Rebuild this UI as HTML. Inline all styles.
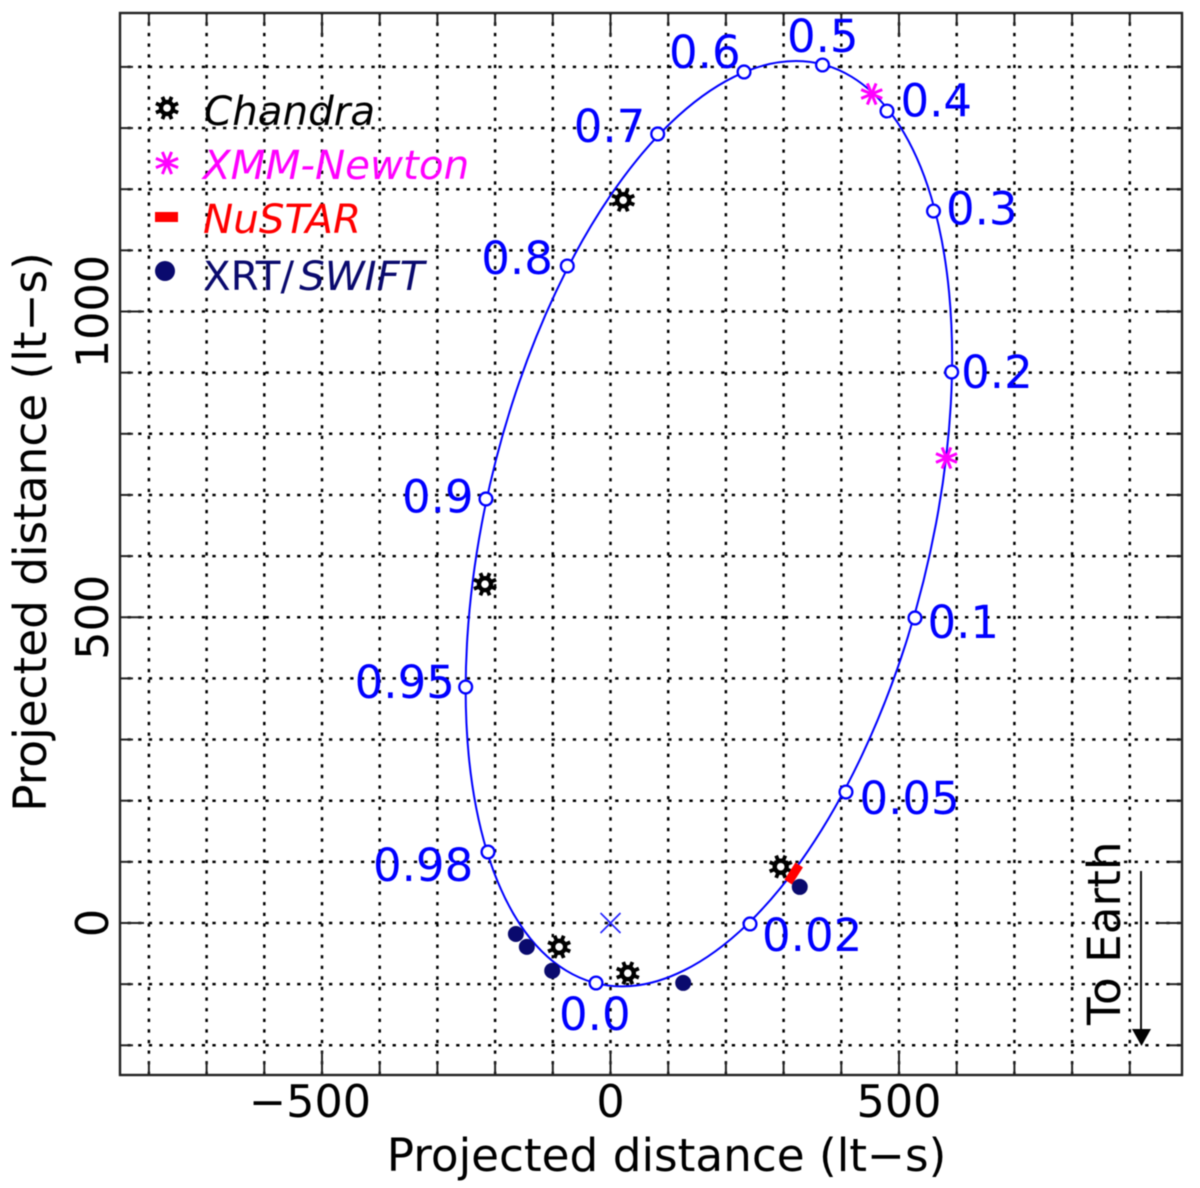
<!DOCTYPE html>
<html lang="en">
<head>
<meta charset="utf-8">
<title>Binary orbit projected distance chart</title>
<style>
html,body{margin:0;padding:0;background:#fff;}
svg{display:block;filter:blur(0.45px);}
text{font-family:"DejaVu Sans","Liberation Sans",sans-serif;}
</style>
</head>
<body>
<svg id="chart" xmlns="http://www.w3.org/2000/svg" width="1200" height="1188" viewBox="0 0 1200 1188">
  <rect x="0" y="0" width="1200" height="1188" fill="#fff"/>
  <g id="grid"></g>
  <g id="ticks"></g>
  <g id="orbit"></g>
  <g id="obs"></g>
  <rect x="120" y="13" width="1062" height="1062" fill="none" stroke="#222" stroke-width="2.4"/>
  <g id="ticklabels" font-size="44.5" fill="#000"></g>
  <text x="666.5" y="1171" font-size="45.3" text-anchor="middle" fill="#000">Projected distance (lt−s)</text>
  <text transform="translate(46,532) rotate(-90)" font-size="45.3" text-anchor="middle" fill="#000">Projected distance (lt−s)</text>
  <g font-size="40.4">
    <g id="legend-chandra-marker"></g>
    <text x="204" y="125" font-style="italic" fill="#000">Chandra</text>
    <g id="legend-xmm-marker"></g>
    <text x="203" y="179" font-style="italic" fill="#ff00ff">XMM-Newton</text>
    <rect x="155" y="212" width="23" height="10" fill="#ff0000"/>
    <text x="203" y="233" font-style="italic" fill="#ff0000">NuSTAR</text>
    <circle cx="165" cy="271" r="10" fill="#0a0a6e"/>
    <text x="203" y="290" fill="#0a0a6e">XRT/<tspan font-style="italic" dx="5">SWIFT</tspan></text>
  </g>
  <g>
    <text transform="translate(1120,1025) rotate(-90)" font-size="45.3" fill="#000">To Earth</text>
    <line x1="1141" y1="871" x2="1141" y2="1032" stroke="#111" stroke-width="2"/>
    <polygon points="1132,1029 1151,1029 1141.5,1046" fill="#000"/>
  </g>
</svg>
<script>
var xTicks = [-800,-700,-600,-500,-400,-300,-200,-100,0,100,200,300,400,500,600,700,800,900];
var yTicks = [-200,-100,0,100,200,300,400,500,600,700,800,900,1000,1100,1200,1300,1400];
var xTickLabels = [-500,0,500];
var yTickLabels = [0,500,1000];
var orbitX = [321.3,418.0,497.9,555.5,586.8,589.8,564.1,511.8,436.0,342.3,236.9,126.9,19.8,-76.9,-156.8,-214.4,-245.8,-248.7,-223.1,-170.7,-95.0,-1.2,104.2,214.2];
var orbitY = [1409.6,1383.8,1308.3,1188.1,1031.4,848.7,653.0,457.2,274.6,117.9,-2.3,-77.8,-103.7,-77.8,-2.3,117.9,274.6,457.2,653.0,848.7,1031.4,1188.1,1308.3,1383.8];
var phaseNames = ['0.0','0.02','0.05','0.1','0.2','0.3','0.4','0.5','0.6','0.7','0.8','0.9','0.95','0.98'];
var phaseX = [-25.1,241.8,408.1,527.7,591.3,559.8,479.2,367.4,231.4,81.8,-74.9,-215.8,-251,-212.3];
var phaseY = [-98.1,-1.6,214.2,498.8,901,1164.3,1327.9,1403.1,1391.7,1290.3,1074.4,693.4,385.9,116.1];
var focusX = [0];
var focusY = [0];
var chandraX = [22,-217.5,295,-89,30];
var chandraY = [1182,554,92,-39,-82];
var xmmX = [452.7,582.3];
var xmmY = [1355.7,760.4];
var nustarX = [308,327];
var nustarY = [67,95];
var xrtX = [328,-164,-145,-101,126];
var xrtY = [59,-18,-39,-78,-98];

var NS = 'http://www.w3.org/2000/svg';
function sx(v){ return 610.5 + v * 0.577; }
function sy(v){ return 923 - v * 0.6115; }
function mk(parent, tag){
  var el = document.createElementNS(NS, tag);
  parent.appendChild(el);
  return el;
}
function setAll(el, attrs){
  for (var k in attrs) el.setAttribute(k, attrs[k]);
  return el;
}
function isMajor(v){ return v % 500 === 0; }

var gridG = document.getElementById('grid');
var ticksG = document.getElementById('ticks');
var orbitG = document.getElementById('orbit');
var obsG = document.getElementById('obs');
var labelsG = document.getElementById('ticklabels');

xTicks.forEach(function(v){
  var g = mk(gridG, 'line');
  
  
  setAll(g, {x1:sx(v), x2:sx(v), y1:1075, y2:13, stroke:'#000', 'stroke-width':2.5, 'stroke-dasharray':'3.3 7.3'});
  var len = isMajor(v) ? 24 : 13;
  var t1 = mk(ticksG, 'line');
  
  
  setAll(t1, {x1:sx(v), x2:sx(v), y1:1075, y2:1075 - len, stroke:'#222', 'stroke-width':2});
  var t2 = mk(ticksG, 'line');
  
  
  setAll(t2, {x1:sx(v), x2:sx(v), y1:13, y2:13 + len, stroke:'#222', 'stroke-width':2});
});
yTicks.forEach(function(v){
  var g = mk(gridG, 'line');
  
  
  setAll(g, {x1:120, x2:1182, y1:sy(v), y2:sy(v), stroke:'#000', 'stroke-width':2.5, 'stroke-dasharray':'3.3 7.3', 'stroke-dashoffset':3});
  var len = isMajor(v) ? 24 : 13;
  var t1 = mk(ticksG, 'line');
  
  
  setAll(t1, {x1:120, x2:120 + len, y1:sy(v), y2:sy(v), stroke:'#222', 'stroke-width':2});
  var t2 = mk(ticksG, 'line');
  
  
  setAll(t2, {x1:1182, x2:1182 - len, y1:sy(v), y2:sy(v), stroke:'#222', 'stroke-width':2});
});
xTickLabels.forEach(function(v){
  var t = mk(labelsG, 'text');
  
  
  setAll(t, {x:sx(v) - (v < 0 ? 12 : 0), y:1117, 'text-anchor':'middle'});
  t.textContent = (v < 0 ? '\u2212' : '') + Math.abs(v);
});
yTickLabels.forEach(function(v){
  var t = mk(labelsG, 'text');
  
  
  setAll(t, {transform:'translate(108,' + sy(v) + ') rotate(-90)', 'text-anchor':'middle'});
  t.textContent = String(v);
});

function orbitPath(){
  var n = orbitX.length, d = '';
  function P(i){ i = (i + n) % n; return [sx(orbitX[i]), sy(orbitY[i])]; }
  for (var i = 0; i < n; i++){
    var p0 = P(i - 1), p1 = P(i), p2 = P(i + 1), p3 = P(i + 2);
    if (i === 0) d += 'M' + p1[0].toFixed(2) + ' ' + p1[1].toFixed(2);
    var c1x = p1[0] + (p2[0] - p0[0]) / 6, c1y = p1[1] + (p2[1] - p0[1]) / 6;
    var c2x = p2[0] - (p3[0] - p1[0]) / 6, c2y = p2[1] - (p3[1] - p1[1]) / 6;
    d += 'C' + c1x.toFixed(2) + ' ' + c1y.toFixed(2) + ' ' + c2x.toFixed(2) + ' ' + c2y.toFixed(2) + ' ' + p2[0].toFixed(2) + ' ' + p2[1].toFixed(2);
  }
  return d + 'Z';
}
var orbitLine = mk(orbitG, 'path');


setAll(orbitLine, {d:orbitPath(), fill:'none', stroke:'#0000ff', 'stroke-width':2});

function drawGear(parent, cx, cy, scale){
  for (var a = 0; a < 8; a++){
    var ang = a * Math.PI / 4 + Math.PI / 8;
    var sp = mk(parent, 'line');
    setAll(sp, {x1:cx + Math.cos(ang) * 5 * scale, y1:cy + Math.sin(ang) * 5 * scale,
      x2:cx + Math.cos(ang) * 12 * scale, y2:cy + Math.sin(ang) * 12 * scale, stroke:'#000', 'stroke-width':3.8});
  }
  var ring = mk(parent, 'circle');
  setAll(ring, {cx:cx, cy:cy, r:6 * scale, fill:'#fff', stroke:'#000', 'stroke-width':4.4});
}
function drawAsterisk(parent, cx, cy, scale){
  for (var a = 0; a < 8; a++){
    var ang = a * Math.PI / 4 + Math.PI / 8;
    var sp = mk(parent, 'line');
    setAll(sp, {x1:cx, y1:cy, x2:cx + Math.cos(ang) * 12 * scale, y2:cy + Math.sin(ang) * 12 * scale, stroke:'#ff00ff', 'stroke-width':3});
  }
}

chandraX.forEach(function(v, i){
  var g = mk(obsG, 'g');
  
  
  drawGear(g, sx(v), sy(chandraY[i]), 1);
});
xmmX.forEach(function(v, i){
  var g = mk(obsG, 'g');
  
  
  drawAsterisk(g, sx(v), sy(xmmY[i]), 0.95);
});
var nu = mk(obsG, 'line');


setAll(nu, {x1:sx(nustarX[0]), y1:sy(nustarY[0]), x2:sx(nustarX[1]), y2:sy(nustarY[1]), stroke:'#ff0000', 'stroke-width':9});
xrtX.forEach(function(v, i){
  var c = mk(obsG, 'circle');
  
  
  setAll(c, {cx:sx(v), cy:sy(xrtY[i]), r:8, fill:'#0a0a6e'});
});

function drawPhases(){
  var offsets = [[-37,47],[12,27],[13.5,22],[12.5,20],[9.5,16],[12.5,13.5],[13.5,5.5],[-35.5,-13],[-75,-4],[-84,8],[-86,8],[-84,13.5],[-111,11],[-115,29]];
  phaseX.forEach(function(v, i){
    var c = mk(orbitG, 'circle');
    
    
    setAll(c, {cx:sx(v), cy:sy(phaseY[i]), r:6.4, fill:'#fff', stroke:'#0000ff', 'stroke-width':2.3});
    var t = mk(orbitG, 'text');
    
    
    setAll(t, {x:sx(v) + offsets[i][0], y:sy(phaseY[i]) + offsets[i][1], 'font-size':45, fill:'#0000ff'});
    t.textContent = phaseNames[i];
  });
}
drawPhases();

focusX.forEach(function(v, i){
  var cx = sx(v), cy = sy(focusY[i]);
  var a = mk(orbitG, 'path');
  
  
  setAll(a, {d:'M' + (cx - 10) + ' ' + (cy - 10) + 'L' + (cx + 10) + ' ' + (cy + 10) + 'M' + (cx - 10) + ' ' + (cy + 10) + 'L' + (cx + 10) + ' ' + (cy - 10), stroke:'#2222ff', 'stroke-width':1.6, fill:'none'});
});

drawGear(document.getElementById('legend-chandra-marker'), 167, 108, 1);
drawAsterisk(document.getElementById('legend-xmm-marker'), 167, 163, 1);
</script>
</body>
</html>
